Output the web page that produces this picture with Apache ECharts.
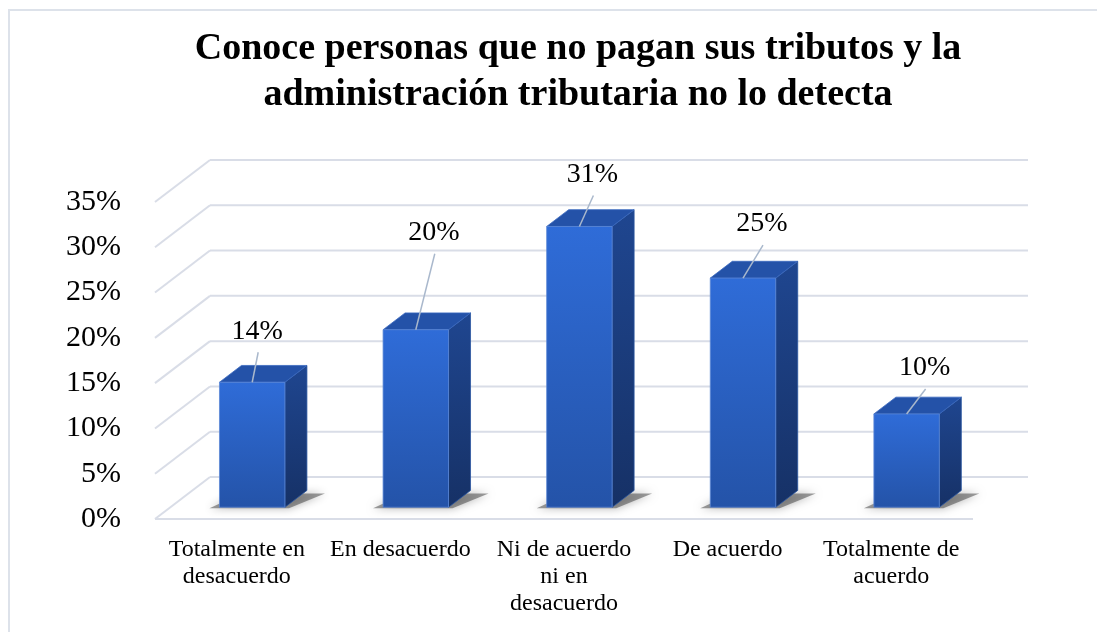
<!DOCTYPE html>
<html><head><meta charset="utf-8">
<script src="https://cdn.jsdelivr.net/npm/echarts@6/dist/echarts.min.js"></script>
<style>html,body{margin:0;padding:0;background:#fff}#c{width:1097px;height:632px}</style>
</head><body><div id="c"></div>
<script>
// ---- data ----
const TITLE_LINES = ['Conoce personas que no pagan sus tributos y la', 'administración tributaria no lo detecta'];
const CATEGORIES = ['Totalmente en\ndesacuerdo', 'En desacuerdo', 'Ni de acuerdo\nni en\ndesacuerdo', 'De acuerdo', 'Totalmente de\nacuerdo'];
const VALUES = [13.8, 19.6, 31.0, 25.3, 10.3];
const Y_TICKS = [0, 5, 10, 15, 20, 25, 30, 35];

// ---- layout / style ----
const DEPTH = [55, -42];      // oblique depth vector of the floor (px)
const F1 = 0.28, F2 = 0.68;   // bar front/back depth fractions
const BAR_RATIO = 0.40;
const LABEL_NUDGE = [[5, -51], [18, -97], [13, -52], [19, -54], [18, -46]];
const SERIF = '"Liberation Serif", "Times New Roman", serif';
const GRID_COLOR = '#d9dde7';

const chart = echarts.init(document.getElementById('c'), null, { renderer: 'canvas' });

function gridRender(params, api) {
  const cs = params.coordSys;
  const v = api.value(1);
  const y = api.coord([0, v])[1];
  const x0 = cs.x, x1 = cs.x + cs.width;
  const style = { stroke: GRID_COLOR, lineWidth: 2, fill: null };
  const children = [
    { type: 'line', shape: { x1: x0 + DEPTH[0], y1: y + DEPTH[1], x2: x1 + DEPTH[0], y2: y + DEPTH[1] }, style },
    { type: 'line', shape: { x1: x0, y1: y, x2: x0 + DEPTH[0], y2: y + DEPTH[1] }, style }
  ];
  if (v === 0) children.push({ type: 'line', shape: { x1: x0, y1: y, x2: x1, y2: y }, style });
  return { type: 'group', children };
}

function barRender(params, api) {
  const i = api.value(0), v = api.value(1);
  const top = api.coord([i, v]);
  const base = api.coord([i, 0]);
  const band = api.size([1, 0])[0];
  const w = band * BAR_RATIO;
  const fdx = DEPTH[0] * F1, fdy = DEPTH[1] * F1;
  const bdx = DEPTH[0] * F2, bdy = DEPTH[1] * F2;
  const L = top[0] - w / 2 + fdx, R = top[0] + w / 2 + fdx;
  const T = top[1] + fdy, B = base[1] + fdy;
  const ox = bdx - fdx, oy = bdy - fdy;
  const frontGrad = new echarts.graphic.LinearGradient(0, 0, 0, 1, [
    { offset: 0, color: '#2f6cd8' }, { offset: 1, color: '#2453a8' }]);
  const sideGrad = new echarts.graphic.LinearGradient(0, 0, 0, 1, [
    { offset: 0, color: '#1f4690' }, { offset: 1, color: '#163166' }]);
  return {
    type: 'group',
    children: [
      { type: 'polygon', shape: { points: [[L - 10, B + 1], [R + 4, B + 1], [R + ox + 18, B + oy + 3], [L + ox, B + oy + 3]] },
        style: { fill: 'rgba(60,60,60,0.5)', shadowBlur: 9, shadowColor: 'rgba(0,0,0,0.6)' } },
      { type: 'polygon', shape: { points: [[R, T], [R + ox, T + oy], [R + ox, B + oy], [R, B]] },
        style: { fill: sideGrad, stroke: '#2a55a0', lineWidth: 0.8 } },
      { type: 'polygon', shape: { points: [[L, T], [R, T], [R + ox, T + oy], [L + ox, T + oy]] },
        style: { fill: '#2452a8', stroke: '#3a68bf', lineWidth: 0.8 } },
      { type: 'rect', shape: { x: L, y: T, width: R - L, height: B - T },
        style: { fill: frontGrad, stroke: '#5a86d6', lineWidth: 0.8 } }
    ]
  };
}

function labelRender(params, api) {
  const i = api.value(0), v = api.value(1);
  const top = api.coord([i, v]);
  const px = top[0] + DEPTH[0] * F1, py = top[1] + DEPTH[1] * F1;
  const n = LABEL_NUDGE[params.dataIndex];
  const lx = px + n[0], ly = py + n[1];
  return {
    type: 'group',
    children: [
      { type: 'line', shape: { x1: px, y1: py, x2: lx + 1, y2: ly + 21 },
        style: { stroke: '#a9b8cc', lineWidth: 1.5 } },
      { type: 'text', style: { text: Math.round(v) + '%', x: lx, y: ly, fill: '#000',
        fontSize: 28, fontFamily: SERIF, align: 'center', verticalAlign: 'middle' } }
    ]
  };
}

chart.setOption({
  backgroundColor: '#fff',
  animation: false,
  graphic: [{
    type: 'rect', z: -10, silent: true,
    shape: { x: 9, y: 10, width: 1200, height: 700 },
    style: { fill: null, stroke: '#dde2ea', lineWidth: 2 }
  }, {
    type: 'text', z: 10, silent: true,
    x: 578, y: 26,
    style: {
      text: TITLE_LINES.join('\n'), align: 'center', verticalAlign: 'top',
      fontFamily: SERIF, fontWeight: 'bold', fontSize: 38, lineHeight: 46, fill: '#000'
    }
  }],
  grid: { left: 155, right: 124, top: 202, bottom: 113, containLabel: false },
  xAxis: {
    type: 'category', data: CATEGORIES,
    axisLine: { show: false }, axisTick: { show: false }, splitLine: { show: false },
    axisLabel: { interval: 0, margin: 17, fontFamily: SERIF, fontSize: 24, lineHeight: 27, color: '#000' }
  },
  yAxis: {
    type: 'value', min: 0, max: 35, interval: 5,
    axisLine: { show: false }, axisTick: { show: false }, splitLine: { show: false },
    axisLabel: { formatter: '{value}%', margin: 34, fontFamily: SERIF, fontSize: 30, color: '#000' }
  },
  series: [
    { type: 'custom', name: 'grid', renderItem: gridRender, clip: false, silent: true, z: 1,
      data: Y_TICKS.map(t => [0, t]) },
    { type: 'custom', name: 'bars', renderItem: barRender, clip: false, z: 2,
      data: VALUES.map((v, i) => [i, v]) },
    { type: 'custom', name: 'labels', renderItem: labelRender, clip: false, z: 3,
      data: VALUES.map((v, i) => [i, v]) }
  ]
});
</script></body></html>
